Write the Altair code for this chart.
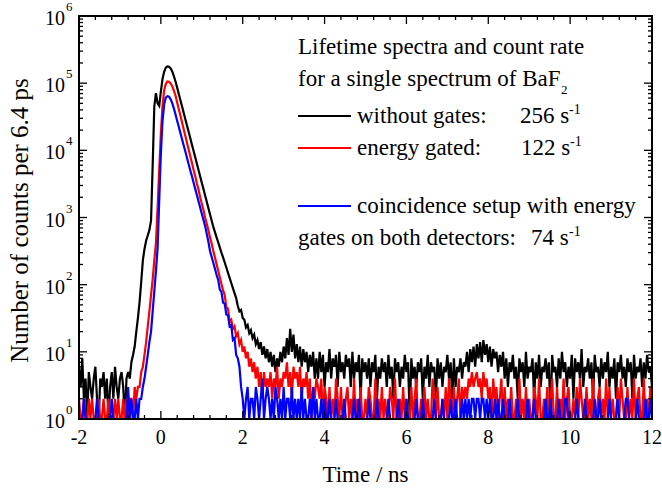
import altair as alt
import pandas as pd

STEP = 0.04          # spacing of the transcribed points (ns)
X_DOMAIN = [-2, 12]
Y_DOMAIN = [1, 1e6]

# ---------------- black: without gates ----------------
BLACK_PRE_START = -2.00
BLACK_PRE = [6, 3, 8, 2, 4, 1, 5, 3, 2, 4, 6, 2, 1, 4, 3, 5, 2, 4, 1, 3,
             5, 2, 6, 3, 2, 4, 5, 3, 1, 4]
BLACK_PEAK_START = -0.80
BLACK_PEAK = [5, 4, 7, 9, 12, 20, 32, 55, 110, 230, 340, 450, 540, 650, 900,
              6000, 45000, 71000, 50000, 46000, 75000, 115000, 148000, 170000,
              178000, 176000, 166000, 148000, 126000, 105000, 85000, 68600,
              55200, 44500, 35800, 28800, 23200, 18700, 15100, 12100, 9800,
              7900, 6300, 5100, 4100, 3300, 2670, 2150, 1730, 1390, 1120, 900,
              730, 610, 510, 430, 360, 300, 255, 214, 180, 150, 126, 106, 89,
              75, 63]
BLACK_TAIL_START = 1.88
BLACK_TAIL = [48, 40, 42, 32, 30, 23, 25, 19, 21, 16, 18, 13, 15, 11, 14, 9,
              12, 8, 11, 7, 10, 6, 9, 5, 8, 6, 10, 7, 12, 8, 16, 9, 22, 10, 18,
              8, 13, 7, 12, 6, 11, 7, 10, 5, 9, 6, 10, 4]
BLACK_FLAT1_START = 3.80
BLACK_FLAT1 = [8, 4, 10, 5, 9, 3, 7, 5, 11, 4, 8, 6, 9, 3, 10, 5, 7, 4, 9, 6,
               8, 3, 10, 4, 7, 5, 9, 2, 8, 5, 7,
               4, 8, 3, 7, 5, 9, 2, 6, 4, 8, 5, 7, 3, 9, 4, 6, 2, 8, 5, 7, 3,
               6, 4, 9, 5, 7, 1, 8, 4, 6, 3, 7, 5, 8, 2, 6, 4, 9, 3, 7, 5, 6,
               2, 8, 4, 7, 3, 6, 5, 9, 4, 7, 2, 8, 3, 6, 5, 8, 4, 7]
BLACK_BUMP_START = 7.44
BLACK_BUMP = [6, 10, 5, 11, 7, 12, 6, 13, 8, 14, 7, 15, 9, 13, 7, 12, 6, 11,
              8, 10, 5, 9, 6, 10, 4]
BLACK_FLAT2_START = 8.44
BLACK_FLAT2 = [8, 3, 7, 5, 9, 4, 6, 2, 8, 5, 7, 3, 10, 4, 6, 5, 8, 2, 7, 4, 9,
               3, 6, 5, 8, 4, 7, 1, 9, 5, 6, 3, 8, 4, 10, 5, 7, 3, 6, 4, 9, 2,
               8, 5, 7, 4, 11, 3, 6, 5, 8, 4, 7, 2, 9, 5, 6, 3, 8, 4, 7, 5, 10,
               3, 6, 4, 8, 2, 7, 5, 9, 4, 6, 3, 8, 5, 7, 2, 9, 4, 6, 5, 8, 3,
               7, 4, 9, 5, 6, 3]

# ---------------- red: energy gated ----------------
RED_PRE_START = -2.00
RED_PRE = [2, 1, 1, 2, 1, 1, 2, 1, 2, 1, 1, 1, 2, 1, 1, 2, 1, 1, 2, 1,
           1, 1, 2, 1, 2, 1, 1, 2, 1, 2, 1, 2, 2, 1, 3]
RED_PEAK_START = -0.60
RED_PEAK = [2, 3, 3, 5, 6, 9, 14, 24, 40, 70, 120, 230, 420, 1400, 5000,
            18000, 45000, 78000, 97000, 106000, 105000, 99000, 89000, 77000,
            65000, 51300, 40700, 32400, 25700, 20400, 16200, 12900, 10200,
            8100, 6500, 5100, 4100, 3200, 2600, 2000, 1600, 1300, 1000, 810,
            650, 510, 410, 320, 257, 204, 162, 129, 102, 83,
            70, 46, 44, 28, 30, 22, 24, 17, 19, 13, 15, 10, 12, 8, 10, 6, 8,
            5, 7, 4, 6, 3, 5, 2, 5, 3, 4]
RED_TAIL1_START = 2.64
RED_TAIL1 = [3, 5, 2, 4, 3, 6, 2, 4, 3, 5, 4, 7, 3, 5, 2, 6, 4, 5, 3, 6, 2, 4,
             3, 5, 2, 4, 1, 3, 2, 4, 3, 2, 4, 1, 3]
RED_TAIL2_START = 4.04
RED_TAIL2 = [2, 1, 3, 1, 2, 1, 4, 2, 1, 3, 1, 1, 2, 3, 1, 2, 1, 4, 1, 2, 1, 3,
             1, 1, 2, 1, 3, 2, 1, 1, 4, 1, 2, 1, 3, 1, 2, 1, 1, 3, 2, 1, 4, 1,
             1, 2, 1, 3, 1, 2, 1, 1, 3, 1, 2, 4, 1, 1, 2, 1, 3, 1, 2, 1, 1, 4,
             2, 1, 3, 1, 1, 2, 1, 3, 1, 4, 2, 1, 3, 1, 2, 4, 1, 3, 2]
RED_BUMP_START = 7.44
RED_BUMP = [3, 2, 4, 3, 5, 3, 4, 5, 3, 4, 2, 5, 3, 4, 2, 3, 1, 4, 2, 3, 1, 2,
            4, 1, 3]
RED_TAIL3_START = 8.44
RED_TAIL3 = [1, 2, 1, 3, 1, 1, 2, 1, 4, 1, 2, 1, 3, 1, 2, 1, 1, 3, 2, 1, 4, 1,
             1, 2, 1, 3, 1, 2, 4, 1, 1, 3, 1, 2, 1, 4, 1, 2, 3, 1, 1, 2, 1, 3,
             1, 4, 2, 1, 1, 3, 1, 2, 1, 4, 1, 1, 2, 3, 1, 2, 1, 4, 1, 3, 1, 2,
             1, 1, 3, 1, 4, 2, 1, 1, 3, 1, 2, 1, 4, 1, 2, 3, 1, 1, 4, 1, 2, 1,
             3, 2]

# ---------------- blue: coincidence setup ----------------
BLUE_PRE_START = -2.00
BLUE_PRE = [1, 1, 1, 2, 1, 1, 1, 1, 1, 1, 1, 2, 1, 1, 1, 1, 1, 1, 1, 1,
            2, 1, 1, 1, 1, 1, 1, 1, 1, 1, 3, 1, 2, 1, 1, 2, 1]
BLUE_PEAK_START = -0.52
BLUE_PEAK = [2, 2, 3, 4, 6, 9, 14, 20, 40, 80, 160, 350, 1800,
             9000, 27000, 48000, 61000, 64000, 63000, 57500, 50000, 41700,
             33900,
             27400, 22200, 17900, 14500, 11700, 9500, 7700, 6200, 5000, 4100,
             3300, 2670, 2160, 1750, 1410, 1140, 925, 750,
             575, 440, 320, 260, 214, 174, 141, 118, 85, 78, 54, 52, 36, 35,
             24, 25, 15, 16, 9, 8, 6, 3, 2]
BLUE_TAIL1_START = 2.04
BLUE_TAIL1 = [1, 2, 3, 1, 2, 2, 1, 3, 2, 1, 2, 4, 1, 2, 3, 2, 1, 2, 1, 3, 2, 1,
              2, 1, 3, 1, 2, 2, 1, 3, 1, 2, 1, 2, 1, 3, 1, 2, 1, 1, 2, 1, 3, 1,
              2, 1, 1, 2, 1, 2]
BLUE_TAIL2_START = 4.04
BLUE_TAIL2 = [1, 1, 2, 1, 1, 1, 2, 1, 1, 1, 1, 2, 1, 1, 1, 1, 1, 2, 1, 1,
              2, 1, 1, 1, 1, 1, 2, 1, 1, 1, 1, 2, 1, 1, 1, 1, 1, 1, 2, 1,
              1, 1, 1, 1, 2, 1, 1, 1, 1, 2, 1, 1, 1, 1, 1, 2, 1, 1, 1, 2,
              1, 1, 1, 1, 1, 1, 2, 1, 1, 1, 1, 2, 1, 1, 1, 1, 2, 1, 1, 2,
              1, 1, 1, 2, 1]
BLUE_BUMP_START = 7.44
BLUE_BUMP = [2, 1, 2, 1, 2, 2, 1, 2, 2, 1, 2, 2, 1, 2, 1, 2, 1, 1, 2, 1, 2, 1,
             1, 2, 1]
BLUE_TAIL3_START = 8.44
BLUE_TAIL3 = [1, 1, 2, 1, 1, 1, 1, 2, 1, 1, 1, 1, 1, 2, 1, 1, 1, 2, 1, 1,
              1, 1, 1, 1, 2, 1, 1, 2, 1, 1, 1, 1, 2, 1, 1, 1, 2, 2, 1, 1,
              1, 1, 1, 2, 1, 1, 1, 1, 2, 1, 1, 1, 1, 1, 2, 1, 1, 2, 1, 1,
              1, 1, 1, 2, 1, 1, 1, 1, 2, 1, 1, 1, 1, 2, 2, 1, 1, 1, 1, 1,
              2, 1, 1, 1, 1, 2, 1, 1, 2, 1]

# ---------------- axes ----------------
X_MAJOR = [-2, 0, 2, 4, 6, 8, 10, 12]
X_LABELS = ["-2", "0", "2", "4", "6", "8", "10", "12"]
X_MINOR = [round(-2 + 0.4 * k, 2) for k in range(36) if k % 5]
Y_MAJOR = [1, 10, 100, 1e3, 1e4, 1e5, 1e6]
Y_EXP = ["0", "1", "2", "3", "4", "5", "6"]
Y_MINOR = [m * 10 ** e for e in range(6) for m in range(2, 10)]

FONT = "Liberation Serif"
W, H = 573, 403
LW = 2.2


def build(segments):
    rows = []
    for start, vals in segments:
        for k, v in enumerate(vals):
            rows.append({"t": round(start + STEP * k, 4), "n": v})
    return pd.DataFrame(rows)


black = build([(BLACK_PRE_START, BLACK_PRE), (BLACK_PEAK_START, BLACK_PEAK),
               (BLACK_TAIL_START, BLACK_TAIL), (BLACK_FLAT1_START, BLACK_FLAT1),
               (BLACK_BUMP_START, BLACK_BUMP), (BLACK_FLAT2_START, BLACK_FLAT2)])
red = build([(RED_PRE_START, RED_PRE), (RED_PEAK_START, RED_PEAK),
             (RED_TAIL1_START, RED_TAIL1), (RED_TAIL2_START, RED_TAIL2),
             (RED_BUMP_START, RED_BUMP), (RED_TAIL3_START, RED_TAIL3)])
blue = build([(BLUE_PRE_START, BLUE_PRE), (BLUE_PEAK_START, BLUE_PEAK),
              (BLUE_TAIL1_START, BLUE_TAIL1), (BLUE_TAIL2_START, BLUE_TAIL2),
              (BLUE_BUMP_START, BLUE_BUMP), (BLUE_TAIL3_START, BLUE_TAIL3)])

xs = alt.Scale(domain=X_DOMAIN, nice=False, zero=False)
ys = alt.Scale(type="log", domain=Y_DOMAIN, nice=False)


def line(df, color):
    return alt.Chart(df).mark_line(color=color, strokeWidth=LW, clip=True).encode(
        x=alt.X("t:Q", scale=xs, axis=None),
        y=alt.Y("n:Q", scale=ys, axis=None),
    )


layers = [line(black, "#000000"), line(red, "#ff0000"), line(blue, "#0000ff")]

# frame
frame_df = pd.DataFrame({"a": [0]})
layers.append(alt.Chart(frame_df).mark_rect(fillOpacity=0, stroke="black", strokeWidth=2).encode(
    x=alt.value(0), x2=alt.value(W), y=alt.value(0), y2=alt.value(H)))

# inward ticks on all four sides
xmaj = pd.DataFrame({"t": X_MAJOR, "lab": X_LABELS})
xmin = pd.DataFrame({"t": X_MINOR})
ymaj = pd.DataFrame({"v": Y_MAJOR, "e": Y_EXP})
ymin = pd.DataFrame({"v": Y_MINOR})
for df, L in [(xmaj, 8), (xmin, 4)]:
    xe = alt.X("t:Q", scale=xs, axis=None)
    layers.append(alt.Chart(df).mark_rule(color="black", strokeWidth=1.3).encode(
        x=xe, y=alt.value(H), y2=alt.value(H - L)))
    layers.append(alt.Chart(df).mark_rule(color="black", strokeWidth=1.3).encode(
        x=xe, y=alt.value(0), y2=alt.value(L)))
for df, L in [(ymaj, 8), (ymin, 4)]:
    ye = alt.Y("v:Q", scale=ys, axis=None)
    layers.append(alt.Chart(df).mark_rule(color="black", strokeWidth=1.3).encode(
        y=ye, x=alt.value(0), x2=alt.value(L)))
    layers.append(alt.Chart(df).mark_rule(color="black", strokeWidth=1.3).encode(
        y=ye, x=alt.value(W), x2=alt.value(W - L)))

# x tick labels
layers.append(alt.Chart(xmaj).mark_text(align="center", baseline="middle", dy=19,
                                        font=FONT, fontSize=20, color="black").encode(
    x=alt.X("t:Q", scale=xs, axis=None), y=alt.value(H), text="lab:N"))

# y tick labels: 10 with superscript exponent
layers.append(alt.Chart(ymaj).mark_text(align="right", baseline="middle", dx=-14, dy=3,
                                        font=FONT, fontSize=20, color="black").encode(
    x=alt.value(0), y=alt.Y("v:Q", scale=ys, axis=None), text=alt.value("10")))
layers.append(alt.Chart(ymaj).mark_text(align="left", baseline="alphabetic", dx=-13, dy=-5,
                                        font=FONT, fontSize=13, color="black").encode(
    x=alt.value(0), y=alt.Y("v:Q", scale=ys, axis=None), text="e:N"))

# axis titles
layers.append(alt.Chart(frame_df).mark_text(align="center", baseline="middle",
                                            font=FONT, fontSize=23, color="black").encode(
    x=alt.value(W / 2), y=alt.value(H + 56), text=alt.value("Time / ns")))
layers.append(alt.Chart(frame_df).mark_text(align="center", baseline="middle", angle=270,
                                            font=FONT, fontSize=25, color="black").encode(
    x=alt.value(-59), y=alt.value(H / 2 + 3), text=alt.value("Number of counts per 6.4 ps")))

# legend / annotation
LEG_LINES = [("#000000", 100), ("#ff0000", 132), ("#0000ff", 190)]
for col, yy in LEG_LINES:
    layers.append(alt.Chart(frame_df).mark_rule(color=col, strokeWidth=2.2).encode(
        x=alt.value(219), x2=alt.value(272), y=alt.value(yy)))

ANNOT = [
    ("Lifetime spectra and count rate", 219, 38, 23),
    ("for a single spectrum of BaF", 219, 70, 23),
    ("2", 482, 78, 13),
    ("without gates:", 278, 107, 23),
    ("256 s", 441, 107, 23),
    ("-1", 490, 98, 14),
    ("energy gated:", 278, 139, 23),
    ("122 s", 442, 139, 23),
    ("-1", 491, 130, 14),
    ("coincidence setup with energy", 278, 197, 23),
    ("gates on both detectors:", 219, 229, 23),
    ("74 s", 452, 229, 23),
    ("-1", 490, 220, 14),
]
for txt, ax, ay, fs in ANNOT:
    layers.append(alt.Chart(frame_df).mark_text(align="left", baseline="alphabetic",
                                                font=FONT, fontSize=fs, color="black").encode(
        x=alt.value(ax), y=alt.value(ay), text=alt.value(txt)))

chart = alt.layer(*layers).properties(
    width=W, height=H,
    padding={"left": 79, "top": 16, "right": 10, "bottom": 70},
    autosize=alt.AutoSizeParams(type="none"),
).configure_view(stroke=None)

chart.save("out.html", embed_options={"renderer": "svg", "actions": False})
